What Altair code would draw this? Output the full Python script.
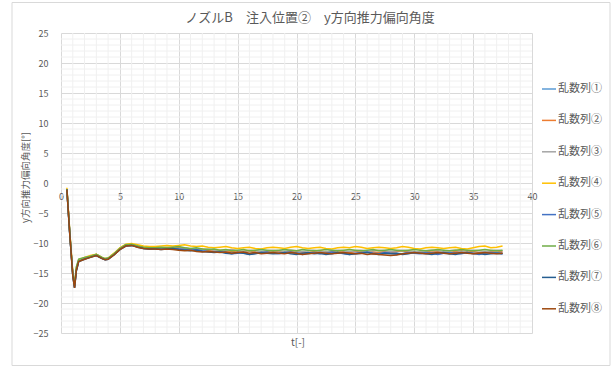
import altair as alt
import pandas as pd

# Time samples: the fine start-up transient, then every 0.5 up to t = 37.5
T_EARLY = [0.5, 0.75, 1.0, 1.15, 1.3, 1.5, 2.0, 2.5, 3.0, 3.5, 3.75, 4.0, 4.5,
           5.0, 5.5, 6.0, 6.5, 7.0, 7.5]
T_LATE = [8.0 + 0.5 * i for i in range(60)]
T = T_EARLY + T_LATE

SERIES_NAMES = ["乱数列①", "乱数列②", "乱数列③", "乱数列④",
                "乱数列⑤", "乱数列⑥", "乱数列⑦", "乱数列⑧"]
SERIES_COLORS = ["#5B9BD5", "#ED7D31", "#A5A5A5", "#FFC000",
                 "#4472C4", "#70AD47", "#255E91", "#9E480E"]

S1 = [-1.0, -8.6, -15.3, -17.4, -14.5, -13.0, -12.6, -12.3, -12.0, -12.5, -12.7, -12.6, -11.9, -11.0, -10.4, -10.3, -10.6, -10.8, -10.9,
      -10.9, -11.0, -10.9, -10.8, -10.9, -11.0, -11.1, -11.2, -11.1, -11.3,
      -11.4, -11.3, -11.5, -11.6, -11.5, -11.7, -11.8, -11.6, -11.5, -11.6,
      -11.5, -11.4, -11.6, -11.7, -11.5, -11.6, -11.8, -11.6, -11.5, -11.4,
      -11.6, -11.7, -11.5, -11.6, -11.8, -11.7, -11.5, -11.6, -11.7, -11.5,
      -11.6, -11.7, -11.8, -11.6, -11.5, -11.6, -11.7, -11.6, -11.5, -11.7,
      -11.8, -11.6, -11.5, -11.6, -11.7, -11.8, -11.6, -11.5, -11.6, -11.7]
S2 = [-1.0, -8.5, -15.2, -17.2, -14.4, -12.9, -12.5, -12.2, -11.9, -12.5, -12.7, -12.6, -11.9, -10.9, -10.3, -10.2, -10.5, -10.7, -10.8,
      -10.8, -10.9, -10.8, -10.7, -10.8, -10.9, -11.0, -11.1, -11.0, -11.2,
      -11.3, -11.2, -11.3, -11.4, -11.5, -11.4, -11.3, -11.5, -11.6, -11.4,
      -11.3, -11.4, -11.5, -11.4, -11.3, -11.5, -11.6, -11.4, -11.3, -11.5,
      -11.4, -11.3, -11.5, -11.6, -11.4, -11.3, -11.4, -11.5, -11.6, -11.4,
      -11.5, -11.4, -11.3, -11.5, -11.6, -11.4, -11.5, -11.3, -11.4, -11.5,
      -11.6, -11.4, -11.3, -11.5, -11.4, -11.6, -11.5, -11.4, -11.3, -11.5]
S3 = [-1.0, -8.5, -15.1, -17.1, -14.3, -12.9, -12.5, -12.2, -12.0, -12.5, -12.7, -12.6, -11.8, -10.9, -10.4, -10.3, -10.5, -10.7, -10.8,
      -10.8, -10.8, -10.7, -10.8, -10.9, -10.8, -11.0, -11.0, -11.1, -11.0,
      -11.2, -11.3, -11.2, -11.1, -11.3, -11.4, -11.2, -11.3, -11.4, -11.3,
      -11.2, -11.3, -11.4, -11.2, -11.3, -11.4, -11.3, -11.2, -11.4, -11.5,
      -11.3, -11.2, -11.3, -11.4, -11.3, -11.2, -11.4, -11.3, -11.2, -11.3,
      -11.4, -11.3, -11.2, -11.3, -11.4, -11.5, -11.3, -11.2, -11.3, -11.4,
      -11.3, -11.2, -11.4, -11.3, -11.2, -11.3, -11.4, -11.3, -11.2, -11.3]
S4 = [-0.8, -8.2, -15.0, -17.0, -14.2, -12.8, -12.4, -12.1, -11.9, -12.4, -12.6, -12.5, -11.7, -10.8, -10.2, -10.1, -10.3, -10.5, -10.6,
      -10.6, -10.5, -10.4, -10.5, -10.4, -10.3, -10.5, -10.6, -10.5, -10.7,
      -10.8, -10.7, -10.6, -10.8, -10.9, -10.8, -10.7, -10.9, -11.0, -10.8,
      -10.7, -10.8, -10.9, -10.7, -10.6, -10.8, -10.9, -10.8, -10.7, -10.9,
      -11.0, -10.8, -10.7, -10.8, -10.6, -10.7, -10.9, -10.8, -10.7, -10.8,
      -10.9, -10.8, -10.6, -10.7, -10.9, -11.0, -10.8, -10.7, -10.8, -10.9,
      -10.8, -10.7, -10.9, -11.0, -10.8, -10.6, -10.5, -10.8, -10.7, -10.5]
S5 = [-1.0, -8.6, -15.3, -17.4, -14.6, -13.1, -12.6, -12.3, -12.1, -12.6, -12.8, -12.7, -11.9, -11.0, -10.5, -10.4, -10.6, -10.9, -11.0,
      -10.9, -11.0, -11.0, -10.9, -11.0, -11.1, -11.2, -11.1, -11.3, -11.4,
      -11.5, -11.4, -11.6, -11.8, -11.7, -11.6, -11.9, -11.7, -11.6, -11.5,
      -11.7, -11.8, -11.6, -11.5, -11.7, -11.9, -11.7, -11.6, -11.8, -11.7,
      -11.5, -11.6, -11.8, -11.9, -11.7, -11.6, -11.5, -11.7, -11.8, -11.6,
      -11.7, -11.9, -11.8, -11.6, -11.7, -11.8, -11.6, -11.7, -11.9, -11.7,
      -11.6, -11.7, -11.8, -11.6, -11.7, -11.9, -11.7, -11.6, -11.7, -11.8]
S6 = [-1.0, -8.4, -15.0, -17.1, -14.0, -12.7, -12.4, -12.2, -11.9, -12.4, -12.6, -12.5, -11.8, -10.9, -10.3, -10.2, -10.5, -10.7, -10.8,
      -10.8, -10.7, -10.8, -10.7, -10.6, -10.8, -10.9, -10.8, -11.0, -11.1,
      -11.0, -11.2, -11.1, -11.3, -11.2, -11.1, -11.3, -11.2, -11.1, -11.2,
      -11.3, -11.2, -11.1, -11.2, -11.3, -11.1, -11.2, -11.3, -11.2, -11.1,
      -11.2, -11.3, -11.2, -11.1, -11.2, -11.3, -11.2, -11.1, -11.3, -11.2,
      -11.1, -11.2, -11.3, -11.2, -11.1, -11.2, -11.3, -11.2, -11.1, -11.2,
      -11.3, -11.2, -11.1, -11.2, -11.3, -11.2, -11.1, -11.2, -11.3, -11.2]
S7 = [-1.1, -8.7, -15.4, -17.5, -14.7, -13.1, -12.7, -12.4, -12.1, -12.6, -12.8, -12.7, -12.0, -11.1, -10.5, -10.4, -10.7, -10.9, -11.0,
      -11.0, -11.1, -11.0, -10.9, -11.1, -11.2, -11.3, -11.2, -11.4, -11.5,
      -11.6, -11.5, -11.7, -11.8, -11.6, -11.7, -11.9, -11.8, -11.6, -11.7,
      -11.8, -11.7, -11.6, -11.8, -11.9, -11.7, -11.6, -11.8, -11.7, -11.9,
      -11.8, -11.6, -11.7, -11.9, -11.8, -11.7, -11.6, -11.8, -11.9, -11.7,
      -11.8, -11.7, -11.9, -11.8, -11.6, -11.7, -11.8, -11.9, -11.7, -11.6,
      -11.8, -11.9, -11.7, -11.6, -11.8, -11.7, -11.9, -11.8, -11.7, -11.8]
S8 = [-1.1, -8.7, -15.4, -17.5, -14.6, -13.1, -12.7, -12.4, -12.1, -12.6, -12.8, -12.7, -12.0, -11.1, -10.5, -10.4, -10.7, -10.9, -11.0,
      -11.0, -11.1, -11.0, -11.1, -11.2, -11.3, -11.2, -11.4, -11.5, -11.4,
      -11.5, -11.6, -11.5, -11.7, -11.6, -11.5, -11.7, -11.6, -11.8, -11.7,
      -11.6, -11.7, -11.8, -11.6, -11.7, -11.9, -11.8, -11.7, -11.6, -11.7,
      -11.8, -11.7, -11.6, -11.7, -11.8, -11.7, -11.9, -11.8, -11.9, -12.0,
      -12.1, -12.0, -11.8, -11.7, -11.6, -11.7, -11.8, -11.7, -11.6, -11.7,
      -11.8, -11.7, -11.6, -11.7, -11.8, -11.7, -11.6, -11.7, -11.8, -11.7]
SERIES_VALUES = [S1, S2, S3, S4, S5, S6, S7, S8]

# Gridline positions and tick labels
X_TICKS = [0, 5, 10, 15, 20, 25, 30, 35, 40]
Y_TICKS = [-25, -20, -15, -10, -5, 0, 5, 10, 15, 20, 25]
X_MINOR = [1, 2, 3, 4, 6, 7, 8, 9, 11, 12, 13, 14, 16, 17, 18, 19, 21, 22, 23, 24,
           26, 27, 28, 29, 31, 32, 33, 34, 36, 37, 38, 39]
Y_MINOR = [-24, -23, -22, -21, -19, -18, -17, -16, -14, -13, -12, -11, -9, -8, -7, -6,
           -4, -3, -2, -1, 1, 2, 3, 4, 6, 7, 8, 9, 11, 12, 13, 14, 16, 17, 18, 19,
           21, 22, 23, 24]

TITLE = "ノズルB\u3000注入位置②\u3000y方向推力偏向角度"
X_TITLE = "t[-]"
Y_TITLE = "y方向推力偏向角度[°]"

FONT = "Noto Sans CJK JP"
TEXT_COLOR = "#595959"
W, H = 471, 300
LEFT, TOP = 61, 33

rows = []
for name, vals in zip(SERIES_NAMES, SERIES_VALUES):
    for t, v in zip(T, vals):
        rows.append({"t": t, "angle": v, "series": name})
df = pd.DataFrame(rows)

x_scale = alt.Scale(domain=[0, 40], nice=False, zero=False)
y_scale = alt.Scale(domain=[-25, 25], nice=False, zero=False)

# One axis definition per direction, shared by every layer so they merge cleanly
x_axis = alt.Axis(
    values=X_TICKS, orient="bottom", offset=-(H / 2), title=None,
    grid=True, gridColor="#d9d9d9", gridWidth=1,
    domain=True, domainColor="#d9d9d9", domainWidth=1,
    ticks=False, labelPadding=9, labelFontSize=9,
    labelFont=FONT, labelColor=TEXT_COLOR, labelFlush=False,
    labelOverlap=False,
)
y_axis = alt.Axis(
    values=Y_TICKS, title=Y_TITLE, grid=True, gridColor="#d9d9d9",
    gridWidth=1, domain=False, ticks=False, labelPadding=13,
    labelFontSize=9, labelFont=FONT, labelColor=TEXT_COLOR,
    labelFlush=False, labelOverlap=False,
    titleFont=FONT, titleFontSize=9.5, titleFontWeight="normal",
    titleColor=TEXT_COLOR, titleX=25 - LEFT, titleY=177 - TOP,
    titleBaseline="middle", titleAngle=270,
)

minor_v = alt.Chart(pd.DataFrame({"t": X_MINOR})).mark_rule(
    color="#f0f0f0", strokeWidth=1
).encode(x=alt.X("t:Q", scale=x_scale, axis=x_axis))

minor_h = alt.Chart(pd.DataFrame({"angle": Y_MINOR})).mark_rule(
    color="#f0f0f0", strokeWidth=1
).encode(y=alt.Y("angle:Q", scale=y_scale, axis=y_axis))

lines = alt.Chart(df).mark_line(strokeWidth=1.5, clip=True).encode(
    x=alt.X("t:Q", scale=x_scale, axis=x_axis),
    y=alt.Y("angle:Q", scale=y_scale, axis=y_axis),
    color=alt.Color(
        "series:N",
        scale=alt.Scale(domain=SERIES_NAMES, range=SERIES_COLORS),
        legend=alt.Legend(
            orient="none", legendX=480, legendY=48, title=None,
            symbolType="stroke", symbolSize=196, symbolStrokeWidth=1.5,
            labelFont=FONT, labelFontSize=11, labelColor=TEXT_COLOR,
            rowPadding=18.4, labelOffset=1, padding=0,
        ),
    ),
)

# Chart title and the horizontal axis title placed at the bottom of the frame
title_text = alt.Chart(pd.DataFrame({"s": [TITLE]})).mark_text(
    font=FONT, fontSize=13, color=TEXT_COLOR, align="center", baseline="middle"
).encode(text="s:N", x=alt.value(310 - LEFT), y=alt.value(18 - TOP))

x_title_text = alt.Chart(pd.DataFrame({"s": [X_TITLE]})).mark_text(
    font=FONT, fontSize=10, color=TEXT_COLOR, align="center", baseline="middle"
).encode(text="s:N", x=alt.value(298 - LEFT), y=alt.value(343 - TOP))

# Outer chart frame
frame = alt.Chart(pd.DataFrame({"k": [0]})).mark_rect(
    fill="transparent", stroke="#d9d9d9", strokeWidth=1
).encode(
    x=alt.value(12 - LEFT), x2=alt.value(610 - LEFT),
    y=alt.value(2.5 - TOP), y2=alt.value(365.5 - TOP),
)

chart = alt.layer(
    frame, minor_v, minor_h, lines, title_text, x_title_text
).properties(
    width=W, height=H,
    autosize=alt.AutoSizeParams(type="none"),
    padding={"left": LEFT, "top": TOP, "right": 612 - LEFT - W, "bottom": 367 - TOP - H},
    background="white",
).configure_view(stroke=None)

chart.save("out.html", embed_options={"renderer": "svg", "actions": False})
